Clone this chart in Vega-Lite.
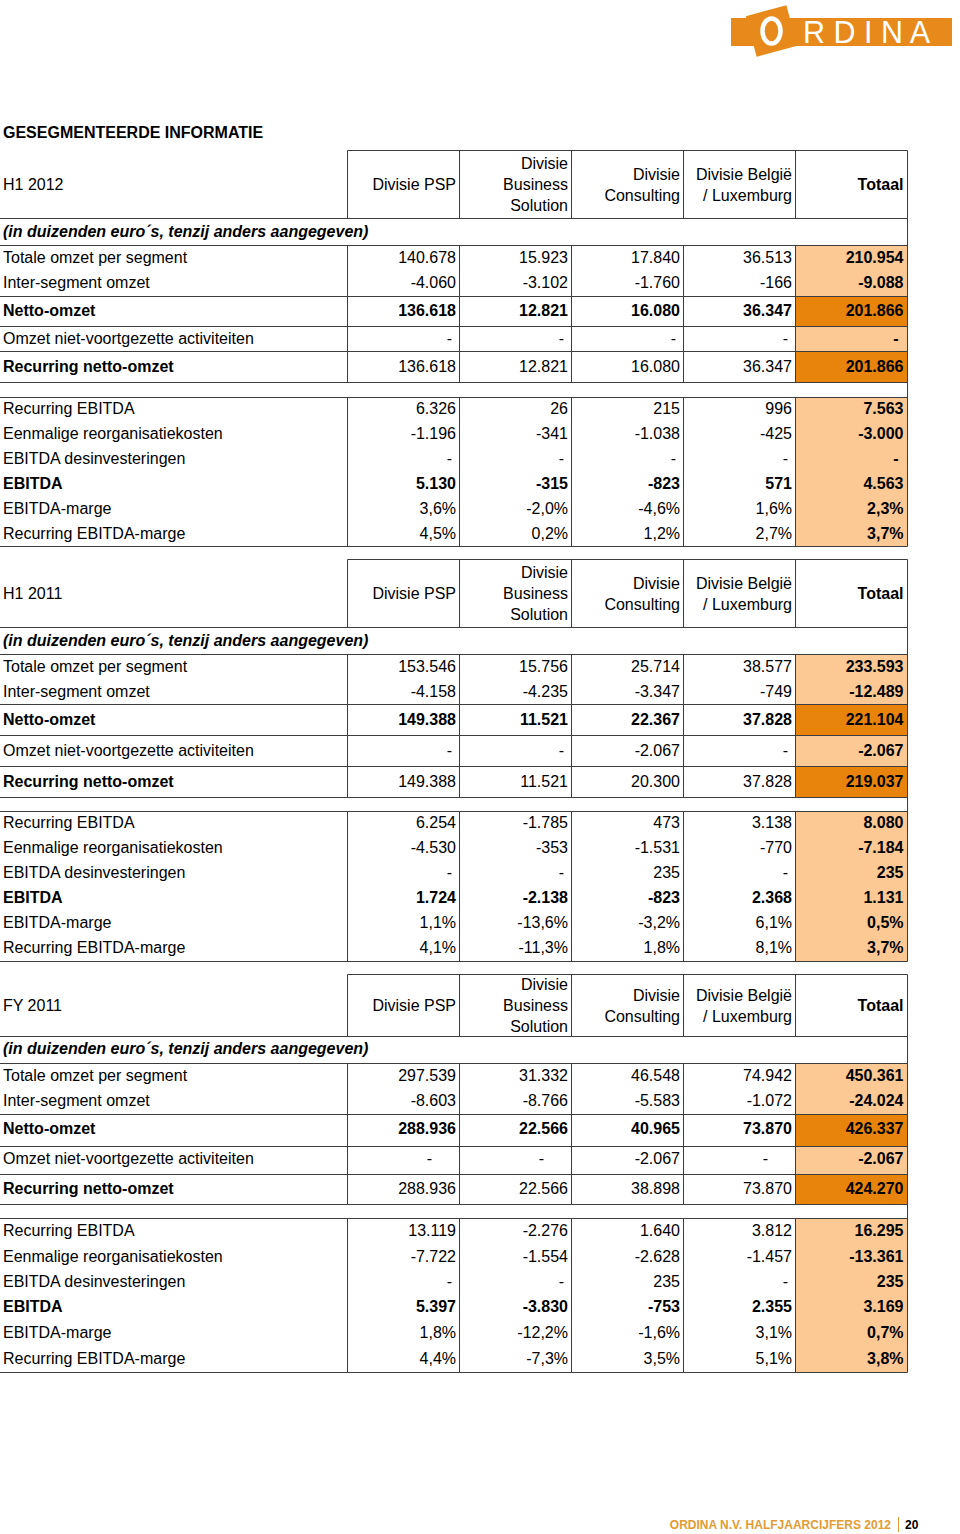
{
  "$schema": "https://vega.github.io/schema/vega-lite/v6.json",
  "width": 960,
  "height": 1534,
  "padding": 0,
  "autosize": {"type": "none"},
  "background": "#ffffff",
  "config": {"view": {"stroke": null}, "font": "Liberation Sans"},
  "datasets": {
    "columns": [
      {"key": "PSP", "col": 1},
      {"key": "BS", "col": 2},
      {"key": "CONS", "col": 3},
      {"key": "BE", "col": 4},
      {"key": "TOT", "col": 5}
    ],
    "table": [
      {"period": "H1 2012", "row": 1, "item": "H1 2012", "PSP": "Divisie PSP", "BS": "Divisie\nBusiness\nSolution", "CONS": "Divisie\nConsulting", "BE": "Divisie België\n/ Luxemburg", "TOT": "Totaal"},
      {"period": "H1 2012", "row": 3, "item": "Totale omzet per segment", "PSP": "140.678", "BS": "15.923", "CONS": "17.840", "BE": "36.513", "TOT": "210.954"},
      {"period": "H1 2012", "row": 4, "item": "Inter-segment omzet", "PSP": "-4.060", "BS": "-3.102", "CONS": "-1.760", "BE": "-166", "TOT": "-9.088"},
      {"period": "H1 2012", "row": 5, "item": "Netto-omzet", "PSP": "136.618", "BS": "12.821", "CONS": "16.080", "BE": "36.347", "TOT": "201.866"},
      {"period": "H1 2012", "row": 6, "item": "Omzet niet-voortgezette activiteiten", "PSP": "-", "BS": "-", "CONS": "-", "BE": "-", "TOT": "-"},
      {"period": "H1 2012", "row": 7, "item": "Recurring netto-omzet", "PSP": "136.618", "BS": "12.821", "CONS": "16.080", "BE": "36.347", "TOT": "201.866"},
      {"period": "H1 2012", "row": 9, "item": "Recurring EBITDA", "PSP": "6.326", "BS": "26", "CONS": "215", "BE": "996", "TOT": "7.563"},
      {"period": "H1 2012", "row": 10, "item": "Eenmalige reorganisatiekosten", "PSP": "-1.196", "BS": "-341", "CONS": "-1.038", "BE": "-425", "TOT": "-3.000"},
      {"period": "H1 2012", "row": 11, "item": "EBITDA desinvesteringen", "PSP": "-", "BS": "-", "CONS": "-", "BE": "-", "TOT": "-"},
      {"period": "H1 2012", "row": 12, "item": "EBITDA", "PSP": "5.130", "BS": "-315", "CONS": "-823", "BE": "571", "TOT": "4.563"},
      {"period": "H1 2012", "row": 13, "item": "EBITDA-marge", "PSP": "3,6%", "BS": "-2,0%", "CONS": "-4,6%", "BE": "1,6%", "TOT": "2,3%"},
      {"period": "H1 2012", "row": 14, "item": "Recurring EBITDA-marge", "PSP": "4,5%", "BS": "0,2%", "CONS": "1,2%", "BE": "2,7%", "TOT": "3,7%"},
      {"period": "H1 2011", "row": 16, "item": "H1 2011", "PSP": "Divisie PSP", "BS": "Divisie\nBusiness\nSolution", "CONS": "Divisie\nConsulting", "BE": "Divisie België\n/ Luxemburg", "TOT": "Totaal"},
      {"period": "H1 2011", "row": 18, "item": "Totale omzet per segment", "PSP": "153.546", "BS": "15.756", "CONS": "25.714", "BE": "38.577", "TOT": "233.593"},
      {"period": "H1 2011", "row": 19, "item": "Inter-segment omzet", "PSP": "-4.158", "BS": "-4.235", "CONS": "-3.347", "BE": "-749", "TOT": "-12.489"},
      {"period": "H1 2011", "row": 20, "item": "Netto-omzet", "PSP": "149.388", "BS": "11.521", "CONS": "22.367", "BE": "37.828", "TOT": "221.104"},
      {"period": "H1 2011", "row": 21, "item": "Omzet niet-voortgezette activiteiten", "PSP": "-", "BS": "-", "CONS": "-2.067", "BE": "-", "TOT": "-2.067"},
      {"period": "H1 2011", "row": 22, "item": "Recurring netto-omzet", "PSP": "149.388", "BS": "11.521", "CONS": "20.300", "BE": "37.828", "TOT": "219.037"},
      {"period": "H1 2011", "row": 24, "item": "Recurring EBITDA", "PSP": "6.254", "BS": "-1.785", "CONS": "473", "BE": "3.138", "TOT": "8.080"},
      {"period": "H1 2011", "row": 25, "item": "Eenmalige reorganisatiekosten", "PSP": "-4.530", "BS": "-353", "CONS": "-1.531", "BE": "-770", "TOT": "-7.184"},
      {"period": "H1 2011", "row": 26, "item": "EBITDA desinvesteringen", "PSP": "-", "BS": "-", "CONS": "235", "BE": "-", "TOT": "235"},
      {"period": "H1 2011", "row": 27, "item": "EBITDA", "PSP": "1.724", "BS": "-2.138", "CONS": "-823", "BE": "2.368", "TOT": "1.131"},
      {"period": "H1 2011", "row": 28, "item": "EBITDA-marge", "PSP": "1,1%", "BS": "-13,6%", "CONS": "-3,2%", "BE": "6,1%", "TOT": "0,5%"},
      {"period": "H1 2011", "row": 29, "item": "Recurring EBITDA-marge", "PSP": "4,1%", "BS": "-11,3%", "CONS": "1,8%", "BE": "8,1%", "TOT": "3,7%"},
      {"period": "FY 2011", "row": 31, "item": "FY 2011", "PSP": "Divisie PSP", "BS": "Divisie\nBusiness\nSolution", "CONS": "Divisie\nConsulting", "BE": "Divisie België\n/ Luxemburg", "TOT": "Totaal"},
      {"period": "FY 2011", "row": 33, "item": "Totale omzet per segment", "PSP": "297.539", "BS": "31.332", "CONS": "46.548", "BE": "74.942", "TOT": "450.361"},
      {"period": "FY 2011", "row": 34, "item": "Inter-segment omzet", "PSP": "-8.603", "BS": "-8.766", "CONS": "-5.583", "BE": "-1.072", "TOT": "-24.024"},
      {"period": "FY 2011", "row": 35, "item": "Netto-omzet", "PSP": "288.936", "BS": "22.566", "CONS": "40.965", "BE": "73.870", "TOT": "426.337"},
      {"period": "FY 2011", "row": 36, "item": "Omzet niet-voortgezette activiteiten", "PSP": "-", "BS": "-", "CONS": "-2.067", "BE": "-", "TOT": "-2.067"},
      {"period": "FY 2011", "row": 37, "item": "Recurring netto-omzet", "PSP": "288.936", "BS": "22.566", "CONS": "38.898", "BE": "73.870", "TOT": "424.270"},
      {"period": "FY 2011", "row": 39, "item": "Recurring EBITDA", "PSP": "13.119", "BS": "-2.276", "CONS": "1.640", "BE": "3.812", "TOT": "16.295"},
      {"period": "FY 2011", "row": 40, "item": "Eenmalige reorganisatiekosten", "PSP": "-7.722", "BS": "-1.554", "CONS": "-2.628", "BE": "-1.457", "TOT": "-13.361"},
      {"period": "FY 2011", "row": 41, "item": "EBITDA desinvesteringen", "PSP": "-", "BS": "-", "CONS": "235", "BE": "-", "TOT": "235"},
      {"period": "FY 2011", "row": 42, "item": "EBITDA", "PSP": "5.397", "BS": "-3.830", "CONS": "-753", "BE": "2.355", "TOT": "3.169"},
      {"period": "FY 2011", "row": 43, "item": "EBITDA-marge", "PSP": "1,8%", "BS": "-12,2%", "CONS": "-1,6%", "BE": "3,1%", "TOT": "0,7%"},
      {"period": "FY 2011", "row": 44, "item": "Recurring EBITDA-marge", "PSP": "4,4%", "BS": "-7,3%", "CONS": "3,5%", "BE": "5,1%", "TOT": "3,8%"}
    ],
    "notes": [
      {"row": 0, "kind": "title", "text": "GESEGMENTEERDE INFORMATIE"},
      {"row": 2, "kind": "unit", "text": "(in duizenden euro´s, tenzij anders aangegeven)"},
      {"row": 17, "kind": "unit", "text": "(in duizenden euro´s, tenzij anders aangegeven)"},
      {"row": 32, "kind": "unit", "text": "(in duizenden euro´s, tenzij anders aangegeven)"}
    ],
    "fills": [
      {"row": 2.5, "row2": 4.5, "level": "detail"},
      {"row": 4.5, "row2": 5.5, "level": "subtotal"},
      {"row": 5.5, "row2": 6.5, "level": "detail"},
      {"row": 6.5, "row2": 7.5, "level": "subtotal"},
      {"row": 8.5, "row2": 14.5, "level": "detail"},
      {"row": 17.5, "row2": 19.5, "level": "detail"},
      {"row": 19.5, "row2": 20.5, "level": "subtotal"},
      {"row": 20.5, "row2": 21.5, "level": "detail"},
      {"row": 21.5, "row2": 22.5, "level": "subtotal"},
      {"row": 23.5, "row2": 29.5, "level": "detail"},
      {"row": 32.5, "row2": 34.5, "level": "detail"},
      {"row": 34.5, "row2": 35.5, "level": "subtotal"},
      {"row": 35.5, "row2": 36.5, "level": "detail"},
      {"row": 36.5, "row2": 37.5, "level": "subtotal"},
      {"row": 38.5, "row2": 44.5, "level": "detail"}
    ],
    "hlines": [
      {"row": 0.5, "col": 0.5, "col2": 5.5},
      {"row": 1.5, "col": -0.5, "col2": 5.5},
      {"row": 2.5, "col": -0.5, "col2": 5.5},
      {"row": 4.5, "col": -0.5, "col2": 5.5},
      {"row": 5.5, "col": -0.5, "col2": 5.5},
      {"row": 6.5, "col": -0.5, "col2": 5.5},
      {"row": 7.5, "col": -0.5, "col2": 5.5},
      {"row": 8.5, "col": -0.5, "col2": 5.5},
      {"row": 14.5, "col": -0.5, "col2": 5.5},
      {"row": 15.5, "col": 0.5, "col2": 5.5},
      {"row": 16.5, "col": -0.5, "col2": 5.5},
      {"row": 17.5, "col": -0.5, "col2": 5.5},
      {"row": 19.5, "col": -0.5, "col2": 5.5},
      {"row": 20.5, "col": -0.5, "col2": 5.5},
      {"row": 21.5, "col": -0.5, "col2": 5.5},
      {"row": 22.5, "col": -0.5, "col2": 5.5},
      {"row": 23.5, "col": -0.5, "col2": 5.5},
      {"row": 29.5, "col": -0.5, "col2": 5.5},
      {"row": 30.5, "col": 0.5, "col2": 5.5},
      {"row": 31.5, "col": -0.5, "col2": 5.5},
      {"row": 32.5, "col": -0.5, "col2": 5.5},
      {"row": 34.5, "col": -0.5, "col2": 5.5},
      {"row": 35.5, "col": -0.5, "col2": 5.5},
      {"row": 36.5, "col": -0.5, "col2": 5.5},
      {"row": 37.5, "col": -0.5, "col2": 5.5},
      {"row": 38.5, "col": -0.5, "col2": 5.5},
      {"row": 44.5, "col": -0.5, "col2": 5.5}
    ],
    "vlines": [
      {"col": 0.5, "row": 0.5, "row2": 1.5}, {"col": 1.5, "row": 0.5, "row2": 1.5}, {"col": 2.5, "row": 0.5, "row2": 1.5}, {"col": 3.5, "row": 0.5, "row2": 1.5}, {"col": 4.5, "row": 0.5, "row2": 1.5},
      {"col": 0.5, "row": 2.5, "row2": 7.5}, {"col": 1.5, "row": 2.5, "row2": 7.5}, {"col": 2.5, "row": 2.5, "row2": 7.5}, {"col": 3.5, "row": 2.5, "row2": 7.5}, {"col": 4.5, "row": 2.5, "row2": 7.5},
      {"col": 0.5, "row": 8.5, "row2": 14.5}, {"col": 1.5, "row": 8.5, "row2": 14.5}, {"col": 2.5, "row": 8.5, "row2": 14.5}, {"col": 3.5, "row": 8.5, "row2": 14.5}, {"col": 4.5, "row": 8.5, "row2": 14.5},
      {"col": 5.5, "row": 0.5, "row2": 14.5},
      {"col": 0.5, "row": 15.5, "row2": 16.5}, {"col": 1.5, "row": 15.5, "row2": 16.5}, {"col": 2.5, "row": 15.5, "row2": 16.5}, {"col": 3.5, "row": 15.5, "row2": 16.5}, {"col": 4.5, "row": 15.5, "row2": 16.5},
      {"col": 0.5, "row": 17.5, "row2": 22.5}, {"col": 1.5, "row": 17.5, "row2": 22.5}, {"col": 2.5, "row": 17.5, "row2": 22.5}, {"col": 3.5, "row": 17.5, "row2": 22.5}, {"col": 4.5, "row": 17.5, "row2": 22.5},
      {"col": 0.5, "row": 23.5, "row2": 29.5}, {"col": 1.5, "row": 23.5, "row2": 29.5}, {"col": 2.5, "row": 23.5, "row2": 29.5}, {"col": 3.5, "row": 23.5, "row2": 29.5}, {"col": 4.5, "row": 23.5, "row2": 29.5},
      {"col": 5.5, "row": 15.5, "row2": 29.5},
      {"col": 0.5, "row": 30.5, "row2": 31.5}, {"col": 1.5, "row": 30.5, "row2": 31.5}, {"col": 2.5, "row": 30.5, "row2": 31.5}, {"col": 3.5, "row": 30.5, "row2": 31.5}, {"col": 4.5, "row": 30.5, "row2": 31.5},
      {"col": 0.5, "row": 32.5, "row2": 37.5}, {"col": 1.5, "row": 32.5, "row2": 37.5}, {"col": 2.5, "row": 32.5, "row2": 37.5}, {"col": 3.5, "row": 32.5, "row2": 37.5}, {"col": 4.5, "row": 32.5, "row2": 37.5},
      {"col": 0.5, "row": 38.5, "row2": 44.5}, {"col": 1.5, "row": 38.5, "row2": 44.5}, {"col": 2.5, "row": 38.5, "row2": 44.5}, {"col": 3.5, "row": 38.5, "row2": 44.5}, {"col": 4.5, "row": 38.5, "row2": 44.5},
      {"col": 5.5, "row": 30.5, "row2": 44.5}
    ],
    "footer": [
      {"part": "publication", "text": "ORDINA N.V. HALFJAARCIJFERS 2012"},
      {"part": "page", "text": "20"}
    ]
  },
  "layer": [
    {
      "encoding": {
        "y": {"field": "row", "type": "quantitative", "axis": null,
          "scale": {"domain": [-4, -3.5, -3, -2.5, 0, 0.5, 1, 1.5, 2, 2.5, 3, 3.5, 4, 4.5, 5, 5.5, 6, 6.5, 7, 7.5, 8, 8.5, 9, 9.5, 10, 10.5, 11, 11.5, 12, 12.5, 13, 13.5, 14, 14.5, 15.5, 16, 16.5, 17, 17.5, 18, 18.5, 19, 19.5, 20, 20.5, 21, 21.5, 22, 22.5, 23.5, 24, 24.5, 25, 25.5, 26, 26.5, 27, 27.5, 28, 28.5, 29, 29.5, 30.5, 31, 31.5, 32, 32.5, 33, 33.5, 34, 34.5, 35, 35.5, 36, 36.5, 37, 37.5, 38.5, 39, 39.5, 40, 40.5, 41, 41.5, 42, 42.5, 43, 43.5, 44, 44.5, 44.9, 45, 45.1],
                    "range": [6, 18, 31, 46, 133, 150.5, 185, 218.5, 232, 245.5, 258, 270.5, 283, 296.5, 311, 326.5, 339, 351.5, 367, 382.5, 389.5, 397.5, 409, 421.5, 434, 446.5, 459, 471.5, 484, 496.5, 509, 521.5, 534, 546.5, 559.5, 594, 627.5, 641, 654.5, 667, 679.5, 692, 704.5, 720, 735.5, 751, 766.5, 782, 797.5, 811.5, 823, 835.5, 848, 860.5, 873, 885.5, 898, 910.5, 923, 935.5, 948, 961.5, 974.5, 1006, 1036.5, 1049, 1063.5, 1076, 1088.5, 1101, 1114.5, 1129, 1146.5, 1159, 1174.5, 1189, 1204.5, 1218.5, 1231, 1244, 1257, 1269.5, 1282, 1294.5, 1307, 1320, 1333, 1346, 1359, 1372.5, 1517, 1525, 1532],
                    "zero": false, "nice": false}}
      },
      "layer": [
        {
          "data": {"name": "fills"},
          "mark": {"type": "rect", "strokeWidth": 0},
          "encoding": {
            "x": {"datum": 4.5, "type": "quantitative", "axis": null,
              "scale": {"domain": [-0.5, 0, 0.5, 1, 1.5, 2, 2.5, 3, 3.5, 4, 4.5, 5, 5.5, 6, 6.2, 6.4, 6.6, 7, 7.2, 7.4], "range": [0, 3, 347.5, 456, 459.5, 568, 571.5, 680, 683.5, 792, 795.5, 903.5, 907.5, 731, 771.5, 803, 952, 891, 898.5, 905], "zero": false, "nice": false}},
            "x2": {"datum": 5.5},
            "y2": {"field": "row2"},
            "color": {"field": "level", "type": "nominal", "legend": null,
              "scale": {"domain": ["detail", "subtotal"], "range": ["#FCC894", "#E8830C"]}}
          }
        },
        {
          "data": {"name": "hlines"},
          "mark": {"type": "rule", "color": "#3c3c3c", "strokeWidth": 1},
          "encoding": {
            "x": {"field": "col", "type": "quantitative", "axis": null,
              "scale": {"domain": [-0.5, 0, 0.5, 1, 1.5, 2, 2.5, 3, 3.5, 4, 4.5, 5, 5.5, 6, 6.2, 6.4, 6.6, 7, 7.2, 7.4], "range": [0, 3, 347.5, 456, 459.5, 568, 571.5, 680, 683.5, 792, 795.5, 903.5, 907.5, 731, 771.5, 803, 952, 891, 898.5, 905], "zero": false, "nice": false}},
            "x2": {"field": "col2"}
          }
        },
        {
          "data": {"name": "vlines"},
          "mark": {"type": "rule", "color": "#3c3c3c", "strokeWidth": 1},
          "encoding": {
            "x": {"field": "col", "type": "quantitative", "axis": null,
              "scale": {"domain": [-0.5, 0, 0.5, 1, 1.5, 2, 2.5, 3, 3.5, 4, 4.5, 5, 5.5, 6, 6.2, 6.4, 6.6, 7, 7.2, 7.4], "range": [0, 3, 347.5, 456, 459.5, 568, 571.5, 680, 683.5, 792, 795.5, 903.5, 907.5, 731, 771.5, 803, 952, 891, 898.5, 905], "zero": false, "nice": false}},
            "y2": {"field": "row2"}
          }
        },
        {
          "data": {"name": "table"},
          "transform": [{"filter": "!(datum.item === 'Netto-omzet' || datum.item === 'Recurring netto-omzet' || datum.item === 'EBITDA')"}],
          "mark": {"type": "text", "align": "left", "baseline": "middle", "font": "Liberation Sans", "fontSize": 16, "color": "#000000"},
          "encoding": {
            "x": {"datum": 0, "type": "quantitative", "axis": null,
              "scale": {"domain": [-0.5, 0, 0.5, 1, 1.5, 2, 2.5, 3, 3.5, 4, 4.5, 5, 5.5, 6, 6.2, 6.4, 6.6, 7, 7.2, 7.4], "range": [0, 3, 347.5, 456, 459.5, 568, 571.5, 680, 683.5, 792, 795.5, 903.5, 907.5, 731, 771.5, 803, 952, 891, 898.5, 905], "zero": false, "nice": false}},
            "text": {"field": "item", "type": "nominal"}
          }
        },
        {
          "data": {"name": "table"},
          "transform": [{"filter": "datum.item === 'Netto-omzet' || datum.item === 'Recurring netto-omzet' || datum.item === 'EBITDA'"}],
          "mark": {"type": "text", "align": "left", "baseline": "middle", "font": "Liberation Sans", "fontSize": 16, "fontWeight": "bold", "color": "#000000"},
          "encoding": {
            "x": {"datum": 0, "type": "quantitative", "axis": null,
              "scale": {"domain": [-0.5, 0, 0.5, 1, 1.5, 2, 2.5, 3, 3.5, 4, 4.5, 5, 5.5, 6, 6.2, 6.4, 6.6, 7, 7.2, 7.4], "range": [0, 3, 347.5, 456, 459.5, 568, 571.5, 680, 683.5, 792, 795.5, 903.5, 907.5, 731, 771.5, 803, 952, 891, 898.5, 905], "zero": false, "nice": false}},
            "text": {"field": "item", "type": "nominal"}
          }
        },
        {
          "data": {"name": "table"},
          "transform": [
            {"fold": ["PSP", "BS", "CONS", "BE", "TOT"], "as": ["key", "value"]},
            {"lookup": "key", "from": {"data": {"name": "columns"}, "key": "key", "fields": ["col"]}},
            {"filter": "!(datum.key === 'TOT' || datum.item === 'Netto-omzet' || datum.item === 'EBITDA') && indexof(datum.value, '\\n') < 0 && datum.value !== '-'"}
          ],
          "mark": {"type": "text", "align": "right", "baseline": "middle", "font": "Liberation Sans", "fontSize": 16, "color": "#000000"},
          "encoding": {
            "x": {"field": "col", "type": "quantitative", "axis": null,
              "scale": {"domain": [-0.5, 0, 0.5, 1, 1.5, 2, 2.5, 3, 3.5, 4, 4.5, 5, 5.5, 6, 6.2, 6.4, 6.6, 7, 7.2, 7.4], "range": [0, 3, 347.5, 456, 459.5, 568, 571.5, 680, 683.5, 792, 795.5, 903.5, 907.5, 731, 771.5, 803, 952, 891, 898.5, 905], "zero": false, "nice": false}},
            "text": {"field": "value", "type": "nominal"}
          }
        },
        {
          "data": {"name": "table"},
          "transform": [
            {"fold": ["PSP", "BS", "CONS", "BE", "TOT"], "as": ["key", "value"]},
            {"lookup": "key", "from": {"data": {"name": "columns"}, "key": "key", "fields": ["col"]}},
            {"filter": "datum.key !== 'TOT' && datum.value === '-' && !(datum.period === 'FY 2011' && datum.item === 'Omzet niet-voortgezette activiteiten')"}
          ],
          "mark": {"type": "text", "align": "right", "baseline": "middle", "dx": -4, "font": "Liberation Sans", "fontSize": 16, "color": "#000000"},
          "encoding": {
            "x": {"field": "col", "type": "quantitative", "axis": null,
              "scale": {"domain": [-0.5, 0, 0.5, 1, 1.5, 2, 2.5, 3, 3.5, 4, 4.5, 5, 5.5, 6, 6.2, 6.4, 6.6, 7, 7.2, 7.4], "range": [0, 3, 347.5, 456, 459.5, 568, 571.5, 680, 683.5, 792, 795.5, 903.5, 907.5, 731, 771.5, 803, 952, 891, 898.5, 905], "zero": false, "nice": false}},
            "text": {"field": "value", "type": "nominal"}
          }
        },
        {
          "data": {"name": "table"},
          "transform": [
            {"fold": ["PSP", "BS", "CONS", "BE", "TOT"], "as": ["key", "value"]},
            {"lookup": "key", "from": {"data": {"name": "columns"}, "key": "key", "fields": ["col"]}},
            {"filter": "datum.key !== 'TOT' && datum.value === '-' && datum.period === 'FY 2011' && datum.item === 'Omzet niet-voortgezette activiteiten'"}
          ],
          "mark": {"type": "text", "align": "right", "baseline": "middle", "dx": -24, "font": "Liberation Sans", "fontSize": 16, "color": "#000000"},
          "encoding": {
            "x": {"field": "col", "type": "quantitative", "axis": null,
              "scale": {"domain": [-0.5, 0, 0.5, 1, 1.5, 2, 2.5, 3, 3.5, 4, 4.5, 5, 5.5, 6, 6.2, 6.4, 6.6, 7, 7.2, 7.4], "range": [0, 3, 347.5, 456, 459.5, 568, 571.5, 680, 683.5, 792, 795.5, 903.5, 907.5, 731, 771.5, 803, 952, 891, 898.5, 905], "zero": false, "nice": false}},
            "text": {"field": "value", "type": "nominal"}
          }
        },
        {
          "data": {"name": "table"},
          "transform": [
            {"fold": ["PSP", "BS", "CONS", "BE", "TOT"], "as": ["key", "value"]},
            {"lookup": "key", "from": {"data": {"name": "columns"}, "key": "key", "fields": ["col"]}},
            {"filter": "datum.key === 'BS' && indexof(datum.value, '\\n') >= 0"}
          ],
          "mark": {"type": "text", "align": "right", "baseline": "middle", "dy": -21, "font": "Liberation Sans", "fontSize": 16, "color": "#000000", "lineBreak": "\n", "lineHeight": 21},
          "encoding": {
            "x": {"field": "col", "type": "quantitative", "axis": null,
              "scale": {"domain": [-0.5, 0, 0.5, 1, 1.5, 2, 2.5, 3, 3.5, 4, 4.5, 5, 5.5, 6, 6.2, 6.4, 6.6, 7, 7.2, 7.4], "range": [0, 3, 347.5, 456, 459.5, 568, 571.5, 680, 683.5, 792, 795.5, 903.5, 907.5, 731, 771.5, 803, 952, 891, 898.5, 905], "zero": false, "nice": false}},
            "text": {"field": "value", "type": "nominal"}
          }
        },
        {
          "data": {"name": "table"},
          "transform": [
            {"fold": ["PSP", "BS", "CONS", "BE", "TOT"], "as": ["key", "value"]},
            {"lookup": "key", "from": {"data": {"name": "columns"}, "key": "key", "fields": ["col"]}},
            {"filter": "datum.key !== 'BS' && indexof(datum.value, '\\n') >= 0"}
          ],
          "mark": {"type": "text", "align": "right", "baseline": "middle", "dy": -10.5, "font": "Liberation Sans", "fontSize": 16, "color": "#000000", "lineBreak": "\n", "lineHeight": 21},
          "encoding": {
            "x": {"field": "col", "type": "quantitative", "axis": null,
              "scale": {"domain": [-0.5, 0, 0.5, 1, 1.5, 2, 2.5, 3, 3.5, 4, 4.5, 5, 5.5, 6, 6.2, 6.4, 6.6, 7, 7.2, 7.4], "range": [0, 3, 347.5, 456, 459.5, 568, 571.5, 680, 683.5, 792, 795.5, 903.5, 907.5, 731, 771.5, 803, 952, 891, 898.5, 905], "zero": false, "nice": false}},
            "text": {"field": "value", "type": "nominal"}
          }
        },
        {
          "data": {"name": "table"},
          "transform": [
            {"fold": ["PSP", "BS", "CONS", "BE", "TOT"], "as": ["key", "value"]},
            {"lookup": "key", "from": {"data": {"name": "columns"}, "key": "key", "fields": ["col"]}},
            {"filter": "(datum.key === 'TOT' || datum.item === 'Netto-omzet' || datum.item === 'EBITDA') && datum.value !== '-'"}
          ],
          "mark": {"type": "text", "align": "right", "baseline": "middle", "font": "Liberation Sans", "fontSize": 16, "fontWeight": "bold", "color": "#000000"},
          "encoding": {
            "x": {"field": "col", "type": "quantitative", "axis": null,
              "scale": {"domain": [-0.5, 0, 0.5, 1, 1.5, 2, 2.5, 3, 3.5, 4, 4.5, 5, 5.5, 6, 6.2, 6.4, 6.6, 7, 7.2, 7.4], "range": [0, 3, 347.5, 456, 459.5, 568, 571.5, 680, 683.5, 792, 795.5, 903.5, 907.5, 731, 771.5, 803, 952, 891, 898.5, 905], "zero": false, "nice": false}},
            "text": {"field": "value", "type": "nominal"}
          }
        },
        {
          "data": {"name": "table"},
          "transform": [
            {"fold": ["PSP", "BS", "CONS", "BE", "TOT"], "as": ["key", "value"]},
            {"lookup": "key", "from": {"data": {"name": "columns"}, "key": "key", "fields": ["col"]}},
            {"filter": "datum.key === 'TOT' && datum.value === '-'"}
          ],
          "mark": {"type": "text", "align": "right", "baseline": "middle", "dx": -5, "font": "Liberation Sans", "fontSize": 16, "fontWeight": "bold", "color": "#000000"},
          "encoding": {
            "x": {"field": "col", "type": "quantitative", "axis": null,
              "scale": {"domain": [-0.5, 0, 0.5, 1, 1.5, 2, 2.5, 3, 3.5, 4, 4.5, 5, 5.5, 6, 6.2, 6.4, 6.6, 7, 7.2, 7.4], "range": [0, 3, 347.5, 456, 459.5, 568, 571.5, 680, 683.5, 792, 795.5, 903.5, 907.5, 731, 771.5, 803, 952, 891, 898.5, 905], "zero": false, "nice": false}},
            "text": {"field": "value", "type": "nominal"}
          }
        },
        {
          "data": {"name": "notes"},
          "transform": [{"filter": "datum.kind === 'title'"}],
          "mark": {"type": "text", "align": "left", "baseline": "middle", "font": "Liberation Sans", "fontSize": 16, "fontWeight": "bold", "color": "#000000"},
          "encoding": {
            "x": {"datum": 0, "type": "quantitative", "axis": null,
              "scale": {"domain": [-0.5, 0, 0.5, 1, 1.5, 2, 2.5, 3, 3.5, 4, 4.5, 5, 5.5, 6, 6.2, 6.4, 6.6, 7, 7.2, 7.4], "range": [0, 3, 347.5, 456, 459.5, 568, 571.5, 680, 683.5, 792, 795.5, 903.5, 907.5, 731, 771.5, 803, 952, 891, 898.5, 905], "zero": false, "nice": false}},
            "text": {"field": "text", "type": "nominal"}
          }
        },
        {
          "data": {"name": "notes"},
          "transform": [{"filter": "datum.kind === 'unit'"}],
          "mark": {"type": "text", "align": "left", "baseline": "middle", "font": "Liberation Sans", "fontSize": 16, "fontWeight": "bold", "fontStyle": "italic", "color": "#000000"},
          "encoding": {
            "x": {"datum": 0, "type": "quantitative", "axis": null,
              "scale": {"domain": [-0.5, 0, 0.5, 1, 1.5, 2, 2.5, 3, 3.5, 4, 4.5, 5, 5.5, 6, 6.2, 6.4, 6.6, 7, 7.2, 7.4], "range": [0, 3, 347.5, 456, 459.5, 568, 571.5, 680, 683.5, 792, 795.5, 903.5, 907.5, 731, 771.5, 803, 952, 891, 898.5, 905], "zero": false, "nice": false}},
            "text": {"field": "text", "type": "nominal"}
          }
        }
      ]
    },
    {
      "data": {"values": [{"brand": "ORDINA"}]},
      "encoding": {
        "y": {"datum": -3, "type": "quantitative", "axis": null,
          "scale": {"domain": [-4, -3.5, -3, -2.5, 0, 0.5, 1, 1.5, 2, 2.5, 3, 3.5, 4, 4.5, 5, 5.5, 6, 6.5, 7, 7.5, 8, 8.5, 9, 9.5, 10, 10.5, 11, 11.5, 12, 12.5, 13, 13.5, 14, 14.5, 15.5, 16, 16.5, 17, 17.5, 18, 18.5, 19, 19.5, 20, 20.5, 21, 21.5, 22, 22.5, 23.5, 24, 24.5, 25, 25.5, 26, 26.5, 27, 27.5, 28, 28.5, 29, 29.5, 30.5, 31, 31.5, 32, 32.5, 33, 33.5, 34, 34.5, 35, 35.5, 36, 36.5, 37, 37.5, 38.5, 39, 39.5, 40, 40.5, 41, 41.5, 42, 42.5, 43, 43.5, 44, 44.5, 44.9, 45, 45.1],
                    "range": [6, 18, 31, 46, 133, 150.5, 185, 218.5, 232, 245.5, 258, 270.5, 283, 296.5, 311, 326.5, 339, 351.5, 367, 382.5, 389.5, 397.5, 409, 421.5, 434, 446.5, 459, 471.5, 484, 496.5, 509, 521.5, 534, 546.5, 559.5, 594, 627.5, 641, 654.5, 667, 679.5, 692, 704.5, 720, 735.5, 751, 766.5, 782, 797.5, 811.5, 823, 835.5, 848, 860.5, 873, 885.5, 898, 910.5, 923, 935.5, 948, 961.5, 974.5, 1006, 1036.5, 1049, 1063.5, 1076, 1088.5, 1101, 1114.5, 1129, 1146.5, 1159, 1174.5, 1189, 1204.5, 1218.5, 1231, 1244, 1257, 1269.5, 1282, 1294.5, 1307, 1320, 1333, 1346, 1359, 1372.5, 1517, 1525, 1532],
                    "zero": false, "nice": false}}
      },
      "layer": [
        {
          "mark": {"type": "rect", "color": "#E8891C"},
          "encoding": {
            "x": {"datum": 6, "type": "quantitative", "axis": null,
              "scale": {"domain": [-0.5, 0, 0.5, 1, 1.5, 2, 2.5, 3, 3.5, 4, 4.5, 5, 5.5, 6, 6.2, 6.4, 6.6, 7, 7.2, 7.4], "range": [0, 3, 347.5, 456, 459.5, 568, 571.5, 680, 683.5, 792, 795.5, 903.5, 907.5, 731, 771.5, 803, 952, 891, 898.5, 905], "zero": false, "nice": false}},
            "x2": {"datum": 6.6},
            "y": {"datum": -3.5, "type": "quantitative"},
            "y2": {"datum": -2.5}
          }
        },
        {
          "mark": {"type": "point", "shape": "square", "filled": true, "opacity": 1, "size": 1764, "angle": -15, "color": "#E8891C"},
          "encoding": {
            "x": {"datum": 6.2, "type": "quantitative", "axis": null,
              "scale": {"domain": [-0.5, 0, 0.5, 1, 1.5, 2, 2.5, 3, 3.5, 4, 4.5, 5, 5.5, 6, 6.2, 6.4, 6.6, 7, 7.2, 7.4], "range": [0, 3, 347.5, 456, 459.5, 568, 571.5, 680, 683.5, 792, 795.5, 903.5, 907.5, 731, 771.5, 803, 952, 891, 898.5, 905], "zero": false, "nice": false}}
          }
        },
        {
          "mark": {"type": "point", "shape": "M0,-1C0.397,-1,0.72,-0.552,0.72,0C0.72,0.552,0.397,1,0,1C-0.397,1,-0.72,0.552,-0.72,0C-0.72,-0.552,-0.397,-1,0,-1Z", "filled": false, "opacity": 1, "size": 625, "stroke": "#ffffff", "strokeWidth": 4.5},
          "encoding": {
            "x": {"datum": 6.2, "type": "quantitative", "axis": null,
              "scale": {"domain": [-0.5, 0, 0.5, 1, 1.5, 2, 2.5, 3, 3.5, 4, 4.5, 5, 5.5, 6, 6.2, 6.4, 6.6, 7, 7.2, 7.4], "range": [0, 3, 347.5, 456, 459.5, 568, 571.5, 680, 683.5, 792, 795.5, 903.5, 907.5, 731, 771.5, 803, 952, 891, 898.5, 905], "zero": false, "nice": false}}
          }
        },
        {
          "mark": {"type": "text", "text": "R D I N A", "align": "left", "baseline": "middle", "dy": 3, "font": "Liberation Sans", "fontSize": 30.5, "color": "#ffffff"},
          "encoding": {
            "x": {"datum": 6.4, "type": "quantitative", "axis": null,
              "scale": {"domain": [-0.5, 0, 0.5, 1, 1.5, 2, 2.5, 3, 3.5, 4, 4.5, 5, 5.5, 6, 6.2, 6.4, 6.6, 7, 7.2, 7.4], "range": [0, 3, 347.5, 456, 459.5, 568, 571.5, 680, 683.5, 792, 795.5, 903.5, 907.5, 731, 771.5, 803, 952, 891, 898.5, 905], "zero": false, "nice": false}}
          }
        },
        {
          "data": {"name": "footer"},
          "transform": [{"filter": "datum.part === 'publication'"}],
          "mark": {"type": "text", "align": "right", "baseline": "middle", "font": "Liberation Sans", "fontSize": 12, "fontWeight": "bold", "color": "#E39B35"},
          "encoding": {
            "x": {"datum": 7, "type": "quantitative", "axis": null,
              "scale": {"domain": [-0.5, 0, 0.5, 1, 1.5, 2, 2.5, 3, 3.5, 4, 4.5, 5, 5.5, 6, 6.2, 6.4, 6.6, 7, 7.2, 7.4], "range": [0, 3, 347.5, 456, 459.5, 568, 571.5, 680, 683.5, 792, 795.5, 903.5, 907.5, 731, 771.5, 803, 952, 891, 898.5, 905], "zero": false, "nice": false}},
            "y": {"datum": 45, "type": "quantitative"},
            "text": {"field": "text", "type": "nominal"}
          }
        },
        {
          "mark": {"type": "rule", "color": "#E39B35", "strokeWidth": 1},
          "encoding": {
            "x": {"datum": 7.2, "type": "quantitative", "axis": null,
              "scale": {"domain": [-0.5, 0, 0.5, 1, 1.5, 2, 2.5, 3, 3.5, 4, 4.5, 5, 5.5, 6, 6.2, 6.4, 6.6, 7, 7.2, 7.4], "range": [0, 3, 347.5, 456, 459.5, 568, 571.5, 680, 683.5, 792, 795.5, 903.5, 907.5, 731, 771.5, 803, 952, 891, 898.5, 905], "zero": false, "nice": false}},
            "y": {"datum": 44.9, "type": "quantitative"},
            "y2": {"datum": 45.1}
          }
        },
        {
          "data": {"name": "footer"},
          "transform": [{"filter": "datum.part === 'page'"}],
          "mark": {"type": "text", "align": "left", "baseline": "middle", "font": "Liberation Sans", "fontSize": 12, "fontWeight": "bold", "color": "#000000"},
          "encoding": {
            "x": {"datum": 7.4, "type": "quantitative", "axis": null,
              "scale": {"domain": [-0.5, 0, 0.5, 1, 1.5, 2, 2.5, 3, 3.5, 4, 4.5, 5, 5.5, 6, 6.2, 6.4, 6.6, 7, 7.2, 7.4], "range": [0, 3, 347.5, 456, 459.5, 568, 571.5, 680, 683.5, 792, 795.5, 903.5, 907.5, 731, 771.5, 803, 952, 891, 898.5, 905], "zero": false, "nice": false}},
            "y": {"datum": 45, "type": "quantitative"},
            "text": {"field": "text", "type": "nominal"}
          }
        }
      ]
    }
  ]
}
